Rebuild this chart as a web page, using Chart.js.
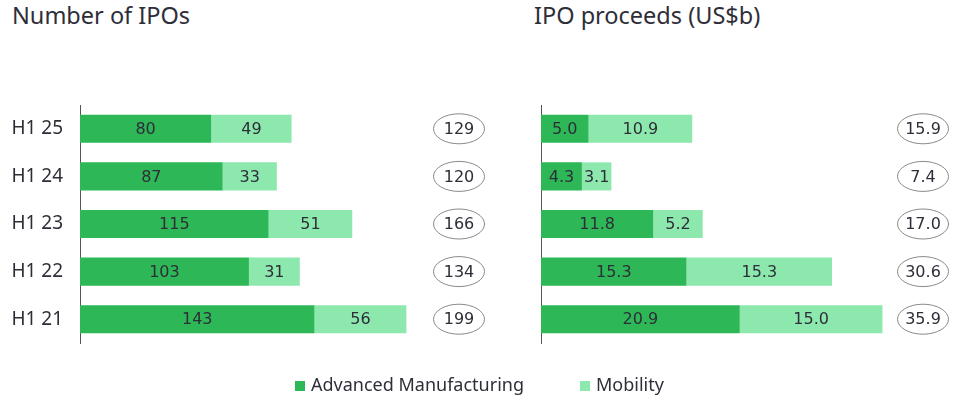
<!DOCTYPE html>
<html>
<head>
<meta charset="utf-8">
<script src="https://cdn.jsdelivr.net/npm/chart.js@4.4.1/dist/chart.umd.min.js"></script>
<style>
  body { margin: 0; background: #fff; width: 969px; height: 405px; overflow: hidden; position: relative; font-family: "Noto Sans", sans-serif; color: #2e2e38; }
  .title { position: absolute; top: 0; font-size: 23.5px; line-height: 30px; }
  canvas { position: absolute; top: 0; }
  #legend { position: absolute; top: 372px; left: 0; width: 969px; font-size: 18px; line-height: 24px; }
  .item { position: absolute; top: 0; white-space: nowrap; }
  .sw { display: inline-block; width: 10px; height: 10px; margin-right: 6px; vertical-align: 0px; }
</style>
</head>
<body>
<div class="title" style="left:12px">Number of IPOs</div>
<div class="title" style="left:534px">IPO proceeds (US$b)</div>
<canvas id="left" width="490" height="405" style="left:0;width:490px;height:405px"></canvas>
<canvas id="right" width="479" height="405" style="left:490px;width:479px;height:405px"></canvas>
<div id="legend">
  <div class="item" style="left:295px"><span class="sw" style="background:#2DB757"></span>Advanced Manufacturing</div>
  <div class="item" style="left:580px"><span class="sw" style="background:#8CE8AD"></span>Mobility</div>
</div>
<script>
const periods = ['H1 25', 'H1 24', 'H1 23', 'H1 22', 'H1 21'];
const countManufacturing = [80, 87, 115, 103, 143];
const countMobility = [49, 33, 51, 31, 56];
const countTotal = [129, 120, 166, 134, 199];
const proceedsManufacturing = [5.0, 4.3, 11.8, 15.3, 20.9];
const proceedsMobility = [10.9, 3.1, 5.2, 15.3, 15.0];
const proceedsTotal = [15.9, 7.4, 17.0, 30.6, 35.9];

const DARK = '#2DB757';
const LIGHT = '#8CE8AD';
const TEXT = '#2e2e38';

// value labels inside each segment + circled totals on the right
const labelsPlugin = {
    id: 'labels',
    afterDatasetsDraw(chart, args, opts) {
        const ctx = chart.ctx;
        ctx.save();
        ctx.font = '16px "DejaVu Sans"';
        ctx.fillStyle = TEXT;
        ctx.textAlign = 'center';
        ctx.textBaseline = 'middle';
        chart.data.datasets.forEach((ds, i) => {
            chart.getDatasetMeta(i).data.forEach((bar, j) => {
                ctx.fillText(opts.fmt(ds.data[j]), (bar.x + bar.base) / 2, bar.y + 1);
            });
        });
        const cx = chart.chartArea.left + opts.totalX;
        chart.getDatasetMeta(0).data.forEach((bar, j) => {
            ctx.beginPath();
            ctx.ellipse(cx, bar.y, 25.5, 15, 0, 0, Math.PI * 2);
            ctx.strokeStyle = '#8a8a8a';
            ctx.lineWidth = 1;
            ctx.stroke();
            ctx.fillText(opts.fmt(opts.totals[j]), cx, bar.y + 1);
        });
        ctx.restore();
    }
};

function makeChart(id, a, b, totals, max, leftWidth, showTicks, totalX, fmt) {
    return new Chart(document.getElementById(id), {
        type: 'bar',
        data: {
            labels: periods,
            datasets: [
                { label: 'Advanced Manufacturing', data: a, backgroundColor: DARK },
                { label: 'Mobility', data: b, backgroundColor: LIGHT }
            ]
        },
        options: {
            indexAxis: 'y',
            responsive: false,
            animation: false,
            events: [],
            categoryPercentage: 1,
            barPercentage: 0.59,
            layout: { padding: { top: 105, bottom: 62, left: 0, right: 0 } },
            scales: {
                x: { stacked: true, min: 0, max: max, display: false },
                y: {
                    stacked: true,
                    grid: { display: false, drawTicks: false },
                    border: { display: true, color: '#555', width: 1 },
                    ticks: { display: showTicks, padding: 17, color: TEXT, font: { family: 'Noto Sans', size: 19 } },
                    afterFit(scale) { scale.width = leftWidth; }
                }
            },
            plugins: {
                legend: { display: false },
                tooltip: { enabled: false },
                labels: { totals: totals, totalX: totalX, fmt: fmt }
            }
        },
        plugins: [labelsPlugin]
    });
}

makeChart('left', countManufacturing, countMobility, countTotal, 250, 80, true, 379, v => String(v));
makeChart('right', proceedsManufacturing, proceedsMobility, proceedsTotal, 45, 51, false, 382, v => v.toFixed(1));
</script>
</body>
</html>
